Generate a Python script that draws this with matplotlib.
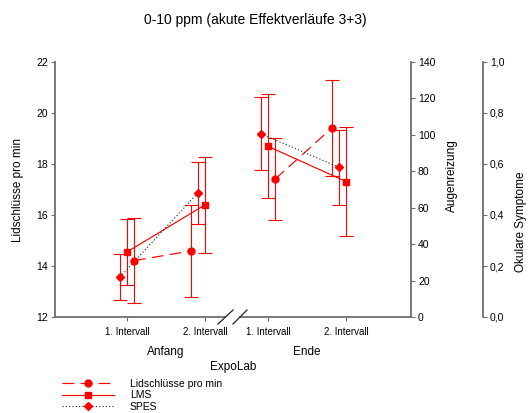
import matplotlib
matplotlib.use("Agg")
import matplotlib.pyplot as plt
from matplotlib.lines import Line2D
from matplotlib.ticker import FuncFormatter, MultipleLocator

plt.rcParams['font.family'] = ['Liberation Sans', 'DejaVu Sans']
plt.rcParams['lines.scale_dashes'] = False

# ---- data -------------------------------------------------------------
groups = ["Anfang", "Ende"]
intervals = ["1. Intervall", "2. Intervall"]

lids_mean = [14.21, 14.59, 17.41, 19.42]
lids_err = [1.66, 1.81, 1.60, 1.89]
lms_mean = [14.55, 16.40, 18.69, 17.31]
lms_err = [1.30, 1.89, 2.04, 2.13]
spes_mean = [13.57, 16.87, 19.18, 17.87]
spes_err = [0.90, 1.22, 1.43, 1.46]

series_names = ["Lidschlüsse pro min", "LMS", "SPES"]

# ---- layout -----------------------------------------------------------
W, H = 530, 413
DPI = 100
AX_L, AX_R, AX_T, AX_B = 55, 411, 62, 317   # axes box in pixels
group_gap = 1.81                             # position of second group
step = 0.09                                  # horizontal nudge between series
# nudges (in units of step) for points at interval 1 / interval 2
nudge = {
    "lids": [1, -2],
    "lms": [0, 0],
    "spes": [-1, -1],
}

tick_pos = [g * group_gap + i for g in range(len(groups)) for i in range(len(intervals))]
tick_lab = [lab for _ in groups for lab in intervals]

RED = "#ff0000"
GREY = "#6e6e6e"
MS = {"o": 5.0, "s": 4.6, "D": 4.2}

fig = plt.figure(figsize=(W / DPI, H / DPI), dpi=DPI)
ax = fig.add_axes([AX_L / W, (H - AX_B) / H, (AX_R - AX_L) / W, (AX_B - AX_T) / H])

px_per_unit = 78.0
x0 = (AX_L - 127) / px_per_unit
x1 = x0 + (AX_R - AX_L) / px_per_unit
ax.set_xlim(x0, x1)
ax.set_ylim(12, 22)


def draw_series(mean, err, key, marker, ls_kwargs):
    for g in range(len(groups)):
        xs, ys, es = [], [], []
        for i in range(len(intervals)):
            k = g * len(intervals) + i
            xs.append(tick_pos[k] + nudge[key][i] * step)
            ys.append(mean[k])
            es.append(err[k])
        ax.errorbar(xs, ys, yerr=es, fmt="none", ecolor=RED, elinewidth=0.8,
                    capsize=5, capthick=0.8, zorder=2)
        ax.plot(xs, ys, zorder=3, **ls_kwargs)
        ax.plot(xs, ys, linestyle="none", marker=marker, ms=MS[marker],
                color=RED, mec=RED, zorder=4)


lids_style = dict(color=RED, lw=0.85, dashes=(8.5, 4.5))
lms_style = dict(color=RED, lw=0.85, linestyle="-")
spes_style = dict(color="#222222", lw=0.8, dashes=(0.8, 1.6))

draw_series(lids_mean, lids_err, "lids", "o", lids_style)
draw_series(lms_mean, lms_err, "lms", "s", lms_style)
draw_series(spes_mean, spes_err, "spes", "D", spes_style)

# ---- axes styling -----------------------------------------------------
for s in ["top", "right", "bottom"]:
    ax.spines[s].set_visible(False)
ax.spines["left"].set_color(GREY)
ax.spines["left"].set_linewidth(1.3)

ax.set_xticks(tick_pos)
ax.set_xticklabels(tick_lab, fontsize=7)
ax.yaxis.set_major_locator(MultipleLocator(2))
ax.tick_params(axis="y", direction="out", length=3, width=0.8, color=GREY,
               labelsize=7.5, pad=2)
ax.tick_params(axis="x", direction="out", length=3, width=0.8, color=GREY,
               labelsize=7, pad=4)


def axc(px, py):
    return ((px - AX_L) / (AX_R - AX_L), (AX_B - py) / (AX_B - AX_T))


def place_ylabel(a, text, px, py):
    a.set_ylabel(text, fontsize=8.5)
    a.yaxis.label.set_verticalalignment("center")
    a.yaxis.label.set_horizontalalignment("center")
    a.yaxis.set_label_coords(axc(px, 0)[0], axc(0, py)[1])


place_ylabel(ax, "Lidschlüsse pro min", 18, 190)

# bottom axis with a break between the two groups
for a, b in [((AX_L, AX_B), (225.5, AX_B)), ((240, AX_B), (AX_R, AX_B))]:
    p, q = axc(*a), axc(*b)
    ax.add_line(Line2D([p[0], q[0]], [p[1], q[1]], transform=ax.transAxes,
                       color=GREY, lw=1.3, clip_on=False))
for a, b in [((218, 324), (233, 310)), ((233, 324), (247, 310))]:
    p, q = axc(*a), axc(*b)
    ax.add_line(Line2D([p[0], q[0]], [p[1], q[1]], transform=ax.transAxes,
                       color="#222222", lw=0.9, clip_on=False))

# second axis: Augenreizung
ax2 = ax.twinx()
ax2.set_ylim(0, 140)
ax2.yaxis.set_major_locator(MultipleLocator(20))
for s in ["top", "left", "bottom"]:
    ax2.spines[s].set_visible(False)
ax2.spines["right"].set_color(GREY)
ax2.spines["right"].set_linewidth(1.3)
ax2.tick_params(axis="y", direction="out", length=3, width=0.8, color=GREY,
                labelsize=7.5, pad=2)
place_ylabel(ax2, "Augenreizung", 452, 176)

# third axis: Okulare Symptome
ax3 = ax.twinx()
ax3.set_ylim(0, 1.0)
ax3.spines["right"].set_position(("axes", axc(483, 0)[0]))
ax3.yaxis.set_major_locator(MultipleLocator(0.2))
ax3.yaxis.set_major_formatter(FuncFormatter(lambda v, p: f"{v:.1f}".replace(".", ",")))
for s in ["top", "left", "bottom"]:
    ax3.spines[s].set_visible(False)
ax3.spines["right"].set_color(GREY)
ax3.spines["right"].set_linewidth(1.3)
ax3.tick_params(axis="y", direction="out", length=3, width=0.8, color=GREY,
                labelsize=7.5, pad=2)
place_ylabel(ax3, "Okulare Symptome", 521, 222)

# group labels and x-axis title
for g, name in enumerate(groups):
    cx = (tick_pos[g * 2] + tick_pos[g * 2 + 1]) / 2
    ax.text(cx, axc(0, 352)[1], name, transform=ax.get_xaxis_transform(),
            ha="center", va="center", fontsize=8.5)
fig.text(233 / W, 1 - 367 / H, "ExpoLab", ha="center", va="center", fontsize=8.5)

fig.text(255 / W, 1 - 20 / H, "0-10 ppm (akute Effektverläufe 3+3)",
         ha="center", va="center", fontsize=10)

# legend
handles = [
    Line2D([], [], marker="o", ms=MS["o"], color=RED, lw=0.85, dashes=(8.5, 4.5)),
    Line2D([], [], marker="s", ms=MS["s"], color=RED, lw=0.85),
    Line2D([], [], marker="D", ms=MS["D"], color="#222222", mfc=RED, mec=RED,
           lw=0.8, dashes=(0.8, 1.6)),
]
leg = fig.legend(handles, series_names, loc="upper left",
                 bbox_to_anchor=(62 / W, 1 - 379 / H), frameon=False,
                 fontsize=7.5, handlelength=5.0, handletextpad=1.5,
                 labelspacing=0.12, numpoints=1, borderaxespad=0, borderpad=0)

fig.savefig("out.png", dpi=DPI)
